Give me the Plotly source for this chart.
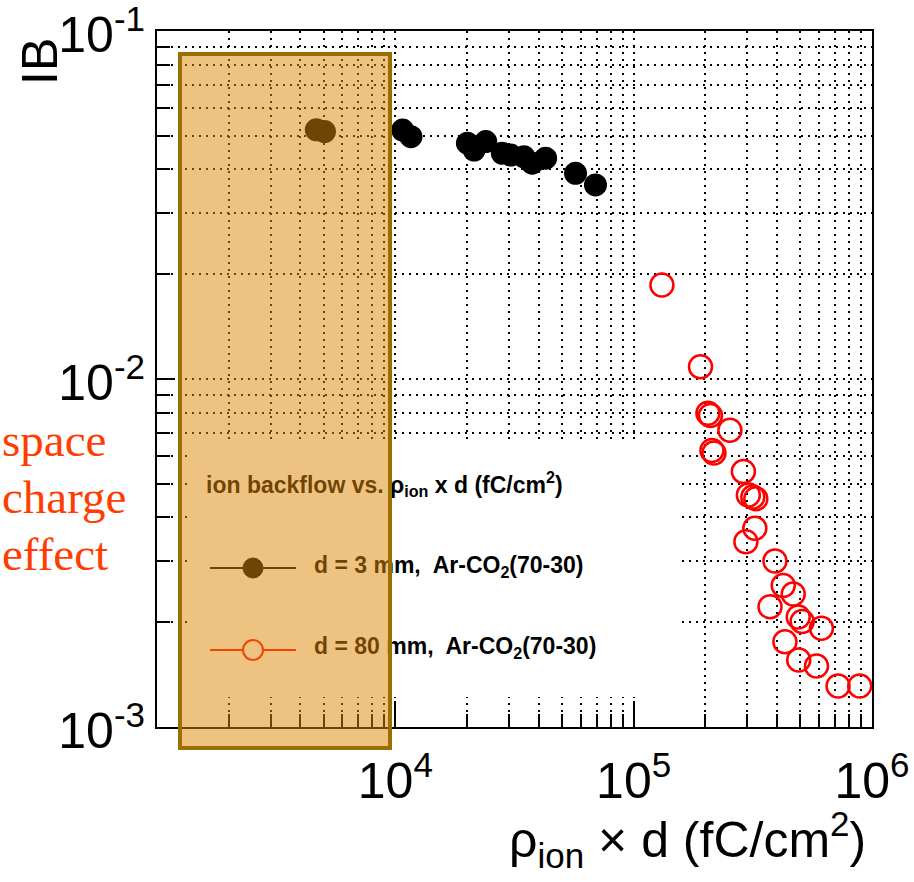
import plotly.graph_objects as go

# ---------------- data ----------------
x_3mm = [4660, 5045, 10730, 11630, 20070, 21410, 23960, 28120, 30480,
         34650, 37540, 42710, 57020, 69140]
y_3mm = [0.0520, 0.0514, 0.0519, 0.0497, 0.0476, 0.0455, 0.0481, 0.0445,
         0.0440, 0.0435, 0.0417, 0.0431, 0.0390, 0.0361]

x_80mm = [131350, 190700, 204900, 210000, 253400, 213000, 217200, 288600,
          302800, 316200, 325500, 322400, 295700, 391600, 424200, 467200,
          373300, 490200, 509400, 613600, 431200, 492600, 584800, 720500,
          888100]
y_80mm = [0.01862, 0.01085, 0.00797, 0.00785, 0.00712, 0.00623, 0.00613,
          0.00542, 0.00464, 0.00458, 0.00453, 0.003724, 0.003408, 0.002999,
          0.002550, 0.002411, 0.002217, 0.002071, 0.002010, 0.001921,
          0.001758, 0.001557, 0.001497, 0.001311, 0.001311]

x_tickvals = [1e4, 1e5, 1e6]
x_ticktext = ["10<sup>4</sup>", "10<sup>5</sup>", "10<sup>6</sup>"]
y_tickvals = [1e-3, 1e-2, 1e-1]
y_ticktext = ["10<sup>-3</sup>", "10<sup>-2</sup>", "10<sup>-1</sup>"]
x_minorvals = [2e3, 3e3, 4e3, 5e3, 6e3, 7e3, 8e3, 9e3,
               2e4, 3e4, 4e4, 5e4, 6e4, 7e4, 8e4, 9e4,
               2e5, 3e5, 4e5, 5e5, 6e5, 7e5, 8e5, 9e5]
y_minorvals = [2e-3, 3e-3, 4e-3, 5e-3, 6e-3, 7e-3, 8e-3, 9e-3,
               2e-2, 3e-2, 4e-2, 5e-2, 6e-2, 7e-2, 8e-2, 9e-2]

legend_title = "ion backflow vs. ρ<sub>ion</sub> x d (fC/cm<sup>2</sup>)"
label_3mm = "d = 3 mm,&nbsp; Ar-CO<sub>2</sub>(70-30)"
label_80mm = "d = 80 mm,&nbsp; Ar-CO<sub>2</sub>(70-30)"
x_title = "ρ<sub>ion</sub> × d (fC/cm<sup>2</sup>)"
y_title = "IB"
side_text = ["space", "charge", "effect"]

# ---------------- geometry helpers (pixels -> paper) ----------------
FIG_W, FIG_H = 914, 882
L, T, R, B = 157, 31, 872, 727
PW, PH = R - L, B - T


def px(x):
    return (x - L) / PW


def py(y):
    return (B - y) / PH


FONT = "Liberation Sans, Arial, Helvetica, sans-serif"
RED = "#FF0000"
grid_style = dict(gridcolor="black", griddash="2px,5px", gridwidth=1.7)

fig = go.Figure()
fig.add_trace(go.Scatter(
    x=x_3mm, y=y_3mm, mode="markers", name="d = 3 mm",
    marker=dict(symbol="circle", size=23, color="black", line=dict(width=0)),
    showlegend=False))
fig.add_trace(go.Scatter(
    x=x_80mm, y=y_80mm, mode="markers", name="d = 80 mm",
    marker=dict(symbol="circle-open", size=23, color=RED, line=dict(width=2.5)),
    showlegend=False))

fig.update_xaxes(
    type="log", range=[3, 6], showline=True, linecolor="black", linewidth=2,
    mirror=True, ticks="inside", ticklen=26, tickwidth=2, tickcolor="black",
    tickmode="array", tickvals=x_tickvals, ticktext=x_ticktext,
    tickfont=dict(family=FONT, size=50, color="black"),
    showgrid=True, zeroline=False, ticklabelstandoff=9,
    ticklabeloverflow="allow",
    minor=dict(tickmode="array", tickvals=x_minorvals, ticks="inside",
               ticklen=13, tickwidth=2, tickcolor="black", showgrid=True,
               **grid_style),
    **grid_style)
fig.update_yaxes(
    type="log", range=[-3, -1], showline=True, linecolor="black", linewidth=2,
    mirror=True, ticks="inside", ticklen=18, tickwidth=2, tickcolor="black",
    tickmode="array", tickvals=y_tickvals, ticktext=y_ticktext,
    tickfont=dict(family=FONT, size=50, color="black"),
    showgrid=True, zeroline=False, ticklabelstandoff=0, ticklabelshift=3,
    ticklabeloverflow="allow",
    minor=dict(tickmode="array", tickvals=y_minorvals, ticks="inside",
               ticklen=13, tickwidth=2, tickcolor="black", showgrid=True,
               **grid_style),
    **grid_style)

shapes = []
# white legend box hiding the grid
shapes.append(dict(type="rect", xref="paper", yref="paper", layer="above",
                   x0=px(190), x1=px(680), y0=py(697), y1=py(443),
                   fillcolor="white", line=dict(width=0)))
# legend symbols
for ly, col in [(568, "black"), (650, RED)]:
    shapes.append(dict(type="line", xref="paper", yref="paper", layer="above",
                       x0=px(210), x1=px(296), y0=py(ly), y1=py(ly),
                       line=dict(color=col, width=2)))
shapes.append(dict(type="circle", xref="paper", yref="paper", layer="above",
                   x0=px(243), x1=px(263), y0=py(578), y1=py(558),
                   fillcolor="black", line=dict(color="black", width=1)))
shapes.append(dict(type="circle", xref="paper", yref="paper", layer="above",
                   x0=px(243), x1=px(263), y0=py(660), y1=py(640),
                   fillcolor="white", line=dict(color=RED, width=2)))

annotations = []
# legend texts
annotations.append(dict(xref="paper", yref="paper", x=px(204), y=py(484),
                        xanchor="left", yanchor="middle", showarrow=False,
                        text="<b>" + legend_title + "</b>",
                        font=dict(family=FONT, size=23, color="black")))
annotations.append(dict(xref="paper", yref="paper", x=px(312), y=py(566),
                        xanchor="left", yanchor="middle", showarrow=False,
                        text="<b>" + label_3mm + "</b>",
                        font=dict(family=FONT, size=23, color="black")))
annotations.append(dict(xref="paper", yref="paper", x=px(312), y=py(647),
                        xanchor="left", yanchor="middle", showarrow=False,
                        text="<b>" + label_80mm + "</b>",
                        font=dict(family=FONT, size=23, color="black")))
# axis titles
annotations.append(dict(xref="paper", yref="paper", x=px(868), y=py(877),
                        xanchor="right", yanchor="bottom", showarrow=False,
                        text=x_title,
                        font=dict(family=FONT, size=50, color="black")))
annotations.append(dict(xref="paper", yref="paper", x=px(40), y=py(62),
                        xanchor="center", yanchor="middle", showarrow=False,
                        textangle=-90, text=y_title,
                        font=dict(family=FONT, size=50, color="black")))
# side text
for t, yc in zip(side_text, [440, 497, 554]):
    annotations.append(dict(xref="paper", yref="paper", x=px(0), y=py(yc),
                            xanchor="left", yanchor="middle", showarrow=False,
                            text=t,
                            font=dict(family="Liberation Serif, serif",
                                      size=47, color="#FF3D00")))
# translucent orange highlight box (drawn on top of everything)
annotations.append(dict(xref="paper", yref="paper", x=px(178), y=py(52),
                        xanchor="left", yanchor="top", showarrow=False,
                        text=" ", width=214, height=698, borderpad=0,
                        borderwidth=0, bgcolor="rgb(223,136,8)", opacity=0.5))
annotations.append(dict(xref="paper", yref="paper", x=px(178), y=py(52),
                        xanchor="left", yanchor="top", showarrow=False,
                        text=" ", width=206, height=690, borderpad=0,
                        borderwidth=4, bgcolor="rgba(0,0,0,0)",
                        bordercolor="#9A6E00"))

fig.update_layout(
    width=FIG_W, height=FIG_H,
    margin=dict(l=L, r=FIG_W - R, t=T, b=FIG_H - B, autoexpand=False),
    paper_bgcolor="white", plot_bgcolor="white",
    shapes=shapes, annotations=annotations, showlegend=False,
    font=dict(family=FONT, color="black"),
)

fig.write_html("out.html", config={"displayModeBar": False},
               post_script="document.body.style.margin='0';"
                           "document.body.style.overflow='hidden';")
